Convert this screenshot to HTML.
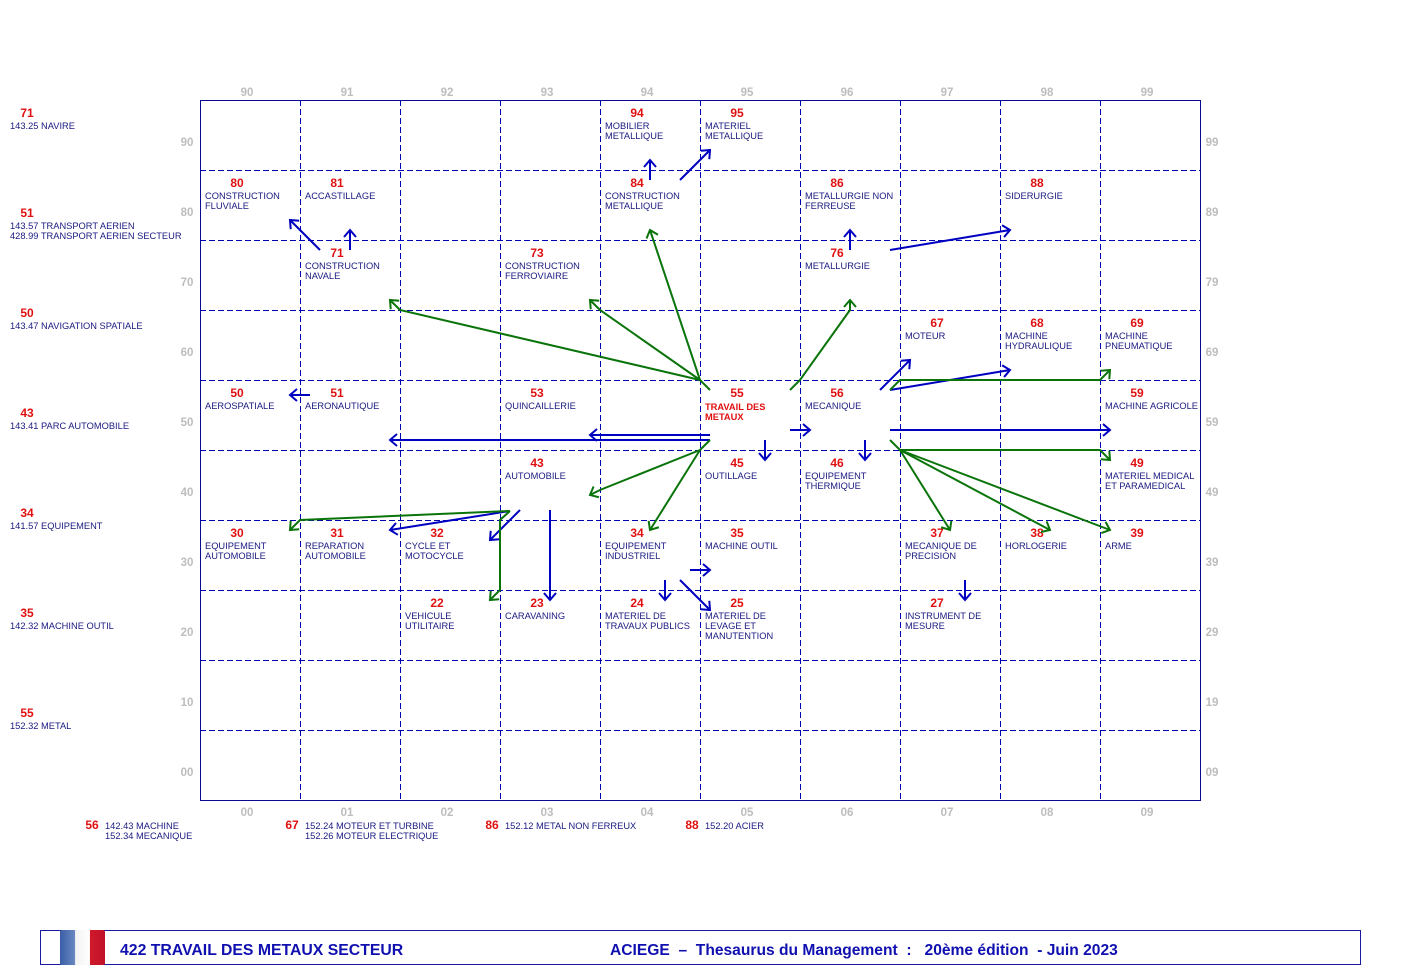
<!DOCTYPE html>
<html><head><meta charset="utf-8"><style>
html,body{margin:0;padding:0;background:#fff;}
svg{display:block;font-family:"Liberation Sans",Arial,sans-serif;}
.n{fill:#e01010;font-size:12px;font-weight:bold;text-anchor:middle;}
.t{fill:#1a1a80;font-size:9.3px;}
.ax{fill:#bdbdbd;font-size:11.5px;font-weight:bold;text-anchor:middle;}
.g{stroke:#0000b0;stroke-width:1;stroke-dasharray:6,3;fill:none;shape-rendering:crispEdges;}
.b{stroke:#0000c0;stroke-width:2;fill:none;marker-end:url(#mb);}
.gr{stroke:#0a740a;stroke-width:2;fill:none;marker-end:url(#mg);}
.grn{stroke:#0a740a;stroke-width:2;fill:none;}
</style></head><body>
<svg width="1410" height="980" viewBox="0 0 1410 980">
<defs>
<marker id="mb" markerUnits="userSpaceOnUse" markerWidth="20" markerHeight="20" refX="10" refY="10" orient="auto"><path d="M3,4 L10,10 L3,16" stroke="#0000c0" stroke-width="2" fill="none"/></marker>
<marker id="mg" markerUnits="userSpaceOnUse" markerWidth="20" markerHeight="20" refX="10" refY="10" orient="auto"><path d="M3,4 L10,10 L3,16" stroke="#0a740a" stroke-width="2" fill="none"/></marker>
<linearGradient id="fl" x1="0" x2="1" y1="0" y2="0"><stop offset="0" stop-color="#3a5fa8"/><stop offset="0.33" stop-color="#6a88c0"/><stop offset="0.34" stop-color="#f2f2f2"/><stop offset="0.66" stop-color="#ffffff"/><stop offset="0.67" stop-color="#d01a2a"/><stop offset="1" stop-color="#c0102a"/></linearGradient>
</defs>
<rect x="200.5" y="100.5" width="1000" height="700" fill="none" stroke="#0a0a90" stroke-width="1"/>
<g class="g">
<path d="M300.5,100V800M400.5,100V800M500.5,100V800M600.5,100V800M700.5,100V800M800.5,100V800M900.5,100V800M1000.5,100V800M1100.5,100V800"/>
<path d="M200,170.5H1200M200,240.5H1200M200,310.5H1200M200,380.5H1200M200,450.5H1200M200,520.5H1200M200,590.5H1200M200,660.5H1200M200,730.5H1200"/>
</g>
<g class="ax">
<text x="247" y="96">90</text><text x="347" y="96">91</text><text x="447" y="96">92</text><text x="547" y="96">93</text><text x="647" y="96">94</text><text x="747" y="96">95</text><text x="847" y="96">96</text><text x="947" y="96">97</text><text x="1047" y="96">98</text><text x="1147" y="96">99</text>
<text x="247" y="816">00</text><text x="347" y="816">01</text><text x="447" y="816">02</text><text x="547" y="816">03</text><text x="647" y="816">04</text><text x="747" y="816">05</text><text x="847" y="816">06</text><text x="947" y="816">07</text><text x="1047" y="816">08</text><text x="1147" y="816">09</text>
<text x="187" y="146">90</text><text x="187" y="216">80</text><text x="187" y="286">70</text><text x="187" y="356">60</text><text x="187" y="426">50</text><text x="187" y="496">40</text><text x="187" y="566">30</text><text x="187" y="636">20</text><text x="187" y="706">10</text><text x="187" y="776">00</text>
<text x="1212" y="146">99</text><text x="1212" y="216">89</text><text x="1212" y="286">79</text><text x="1212" y="356">69</text><text x="1212" y="426">59</text><text x="1212" y="496">49</text><text x="1212" y="566">39</text><text x="1212" y="636">29</text><text x="1212" y="706">19</text><text x="1212" y="776">09</text>
</g>
<g>
<text class="n" x="637" y="117">94</text><text class="t" x="605" y="129">MOBILIER</text><text class="t" x="605" y="139">METALLIQUE</text>
<text class="n" x="737" y="117">95</text><text class="t" x="705" y="129">MATERIEL</text><text class="t" x="705" y="139">METALLIQUE</text>
<text class="n" x="237" y="187">80</text><text class="t" x="205" y="199">CONSTRUCTION</text><text class="t" x="205" y="209">FLUVIALE</text>
<text class="n" x="337" y="187">81</text><text class="t" x="305" y="199">ACCASTILLAGE</text>
<text class="n" x="637" y="187">84</text><text class="t" x="605" y="199">CONSTRUCTION</text><text class="t" x="605" y="209">METALLIQUE</text>
<text class="n" x="837" y="187">86</text><text class="t" x="805" y="199">METALLURGIE NON</text><text class="t" x="805" y="209">FERREUSE</text>
<text class="n" x="1037" y="187">88</text><text class="t" x="1005" y="199">SIDERURGIE</text>
<text class="n" x="337" y="257">71</text><text class="t" x="305" y="269">CONSTRUCTION</text><text class="t" x="305" y="279">NAVALE</text>
<text class="n" x="537" y="257">73</text><text class="t" x="505" y="269">CONSTRUCTION</text><text class="t" x="505" y="279">FERROVIAIRE</text>
<text class="n" x="837" y="257">76</text><text class="t" x="805" y="269">METALLURGIE</text>
<text class="n" x="937" y="327">67</text><text class="t" x="905" y="339">MOTEUR</text>
<text class="n" x="1037" y="327">68</text><text class="t" x="1005" y="339">MACHINE</text><text class="t" x="1005" y="349">HYDRAULIQUE</text>
<text class="n" x="1137" y="327">69</text><text class="t" x="1105" y="339">MACHINE</text><text class="t" x="1105" y="349">PNEUMATIQUE</text>
<text class="n" x="237" y="397">50</text><text class="t" x="205" y="409">AEROSPATIALE</text>
<text class="n" x="337" y="397">51</text><text class="t" x="305" y="409">AERONAUTIQUE</text>
<text class="n" x="537" y="397">53</text><text class="t" x="505" y="409">QUINCAILLERIE</text>
<text class="n" x="737" y="397">55</text><text x="705" y="410" style="fill:#e01010;font-size:9.3px;font-weight:bold">TRAVAIL DES</text><text x="705" y="420" style="fill:#e01010;font-size:9.3px;font-weight:bold">METAUX</text>
<text class="n" x="837" y="397">56</text><text class="t" x="805" y="409">MECANIQUE</text>
<text class="n" x="1137" y="397">59</text><text class="t" x="1105" y="409">MACHINE AGRICOLE</text>
<text class="n" x="537" y="467">43</text><text class="t" x="505" y="479">AUTOMOBILE</text>
<text class="n" x="737" y="467">45</text><text class="t" x="705" y="479">OUTILLAGE</text>
<text class="n" x="837" y="467">46</text><text class="t" x="805" y="479">EQUIPEMENT</text><text class="t" x="805" y="489">THERMIQUE</text>
<text class="n" x="1137" y="467">49</text><text class="t" x="1105" y="479">MATERIEL MEDICAL</text><text class="t" x="1105" y="489">ET PARAMEDICAL</text>
<text class="n" x="237" y="537">30</text><text class="t" x="205" y="549">EQUIPEMENT</text><text class="t" x="205" y="559">AUTOMOBILE</text>
<text class="n" x="337" y="537">31</text><text class="t" x="305" y="549">REPARATION</text><text class="t" x="305" y="559">AUTOMOBILE</text>
<text class="n" x="437" y="537">32</text><text class="t" x="405" y="549">CYCLE ET</text><text class="t" x="405" y="559">MOTOCYCLE</text>
<text class="n" x="637" y="537">34</text><text class="t" x="605" y="549">EQUIPEMENT</text><text class="t" x="605" y="559">INDUSTRIEL</text>
<text class="n" x="737" y="537">35</text><text class="t" x="705" y="549">MACHINE OUTIL</text>
<text class="n" x="937" y="537">37</text><text class="t" x="905" y="549">MECANIQUE DE</text><text class="t" x="905" y="559">PRECISION</text>
<text class="n" x="1037" y="537">38</text><text class="t" x="1005" y="549">HORLOGERIE</text>
<text class="n" x="1137" y="537">39</text><text class="t" x="1105" y="549">ARME</text>
<text class="n" x="437" y="607">22</text><text class="t" x="405" y="619">VEHICULE</text><text class="t" x="405" y="629">UTILITAIRE</text>
<text class="n" x="537" y="607">23</text><text class="t" x="505" y="619">CARAVANING</text>
<text class="n" x="637" y="607">24</text><text class="t" x="605" y="619">MATERIEL DE</text><text class="t" x="605" y="629">TRAVAUX PUBLICS</text>
<text class="n" x="737" y="607">25</text><text class="t" x="705" y="619">MATERIEL DE</text><text class="t" x="705" y="629">LEVAGE ET</text><text class="t" x="705" y="639">MANUTENTION</text>
<text class="n" x="937" y="607">27</text><text class="t" x="905" y="619">INSTRUMENT DE</text><text class="t" x="905" y="629">MESURE</text>
</g>
<g>
<text class="n" x="27" y="117">71</text><text class="t" x="10" y="129">143.25 NAVIRE</text>
<text class="n" x="27" y="217">51</text><text class="t" x="10" y="229">143.57 TRANSPORT AERIEN</text><text class="t" x="10" y="239">428.99 TRANSPORT AERIEN SECTEUR</text>
<text class="n" x="27" y="317">50</text><text class="t" x="10" y="329">143.47 NAVIGATION SPATIALE</text>
<text class="n" x="27" y="417">43</text><text class="t" x="10" y="429">143.41 PARC AUTOMOBILE</text>
<text class="n" x="27" y="517">34</text><text class="t" x="10" y="529">141.57 EQUIPEMENT</text>
<text class="n" x="27" y="617">35</text><text class="t" x="10" y="629">142.32 MACHINE OUTIL</text>
<text class="n" x="27" y="717">55</text><text class="t" x="10" y="729">152.32 METAL</text>
</g>
<g>
<text class="n" x="92" y="829">56</text><text class="t" x="105" y="829">142.43 MACHINE</text><text class="t" x="105" y="839">152.34 MECANIQUE</text>
<text class="n" x="292" y="829">67</text><text class="t" x="305" y="829">152.24 MOTEUR ET TURBINE</text><text class="t" x="305" y="839">152.26 MOTEUR ELECTRIQUE</text>
<text class="n" x="492" y="829">86</text><text class="t" x="505" y="829">152.12 METAL NON FERREUX</text>
<text class="n" x="692" y="829">88</text><text class="t" x="705" y="829">152.20 ACIER</text>
</g>
<g>
<path class="b" d="M320,250L290,220"/>
<path class="b" d="M350,250L350,230"/>
<path class="b" d="M310,395L290,395"/>
<path class="b" d="M650,180L650,160"/>
<path class="b" d="M680,180L710,150"/>
<path class="b" d="M850,250L850,230"/>
<path class="b" d="M890,250L1010,230"/>
<path class="b" d="M880,390L910,360"/>
<path class="b" d="M890,390L1010,370"/>
<path class="b" d="M710,435L590,435"/>
<path class="b" d="M710,440L390,440"/>
<path class="b" d="M790,430L810,430"/>
<path class="b" d="M890,430L1110,430"/>
<path class="b" d="M765,440L765,460"/>
<path class="b" d="M865,440L865,460"/>
<path class="b" d="M510,511L390,530"/>
<path class="b" d="M520,510L490,540"/>
<path class="b" d="M550,510L550,600"/>
<path class="b" d="M690,570L710,570"/>
<path class="b" d="M665,580L665,600"/>
<path class="b" d="M680,580L710,610"/>
<path class="b" d="M965,580L965,600"/>
</g>
<g>
<path class="grn" d="M710,390L700,380"/>
<path class="gr" d="M700,380L400,310L390,300"/>
<path class="gr" d="M700,380L600,310L590,300"/>
<path class="gr" d="M700,380L650,230"/>
<path class="gr" d="M790,390L800,380L850,310L850,300"/>
<path class="gr" d="M890,390L900,380L1100,380L1110,370"/>
<path class="grn" d="M710,440L700,450"/>
<path class="gr" d="M700,450L600,490L590,495"/>
<path class="gr" d="M700,450L650,530"/>
<path class="gr" d="M510,511L300,520L290,530"/>
<path class="gr" d="M510,511L500,520L500,590L490,600"/>
<path class="gr" d="M890,440L900,450L1100,450L1110,460"/>
<path class="gr" d="M900,450L950,530"/>
<path class="gr" d="M900,450L1050,530"/>
<path class="gr" d="M900,450L1110,530"/>
</g>
<rect x="40.5" y="930.5" width="1320" height="34" fill="none" stroke="#1a1aa0" stroke-width="1"/>
<rect x="60" y="930" width="45" height="35" fill="url(#fl)" rx="2"/>
<text x="120" y="955" style="fill:#1010b0;font-size:15.8px;font-weight:bold">422  TRAVAIL DES METAUX SECTEUR</text>
<text x="610" y="955" style="fill:#1010b0;font-size:15.6px;font-weight:bold;white-space:pre" xml:space="preserve">ACIEGE  –  Thesaurus du Management  :   20ème édition  - Juin 2023</text>
</svg>
</body></html>
